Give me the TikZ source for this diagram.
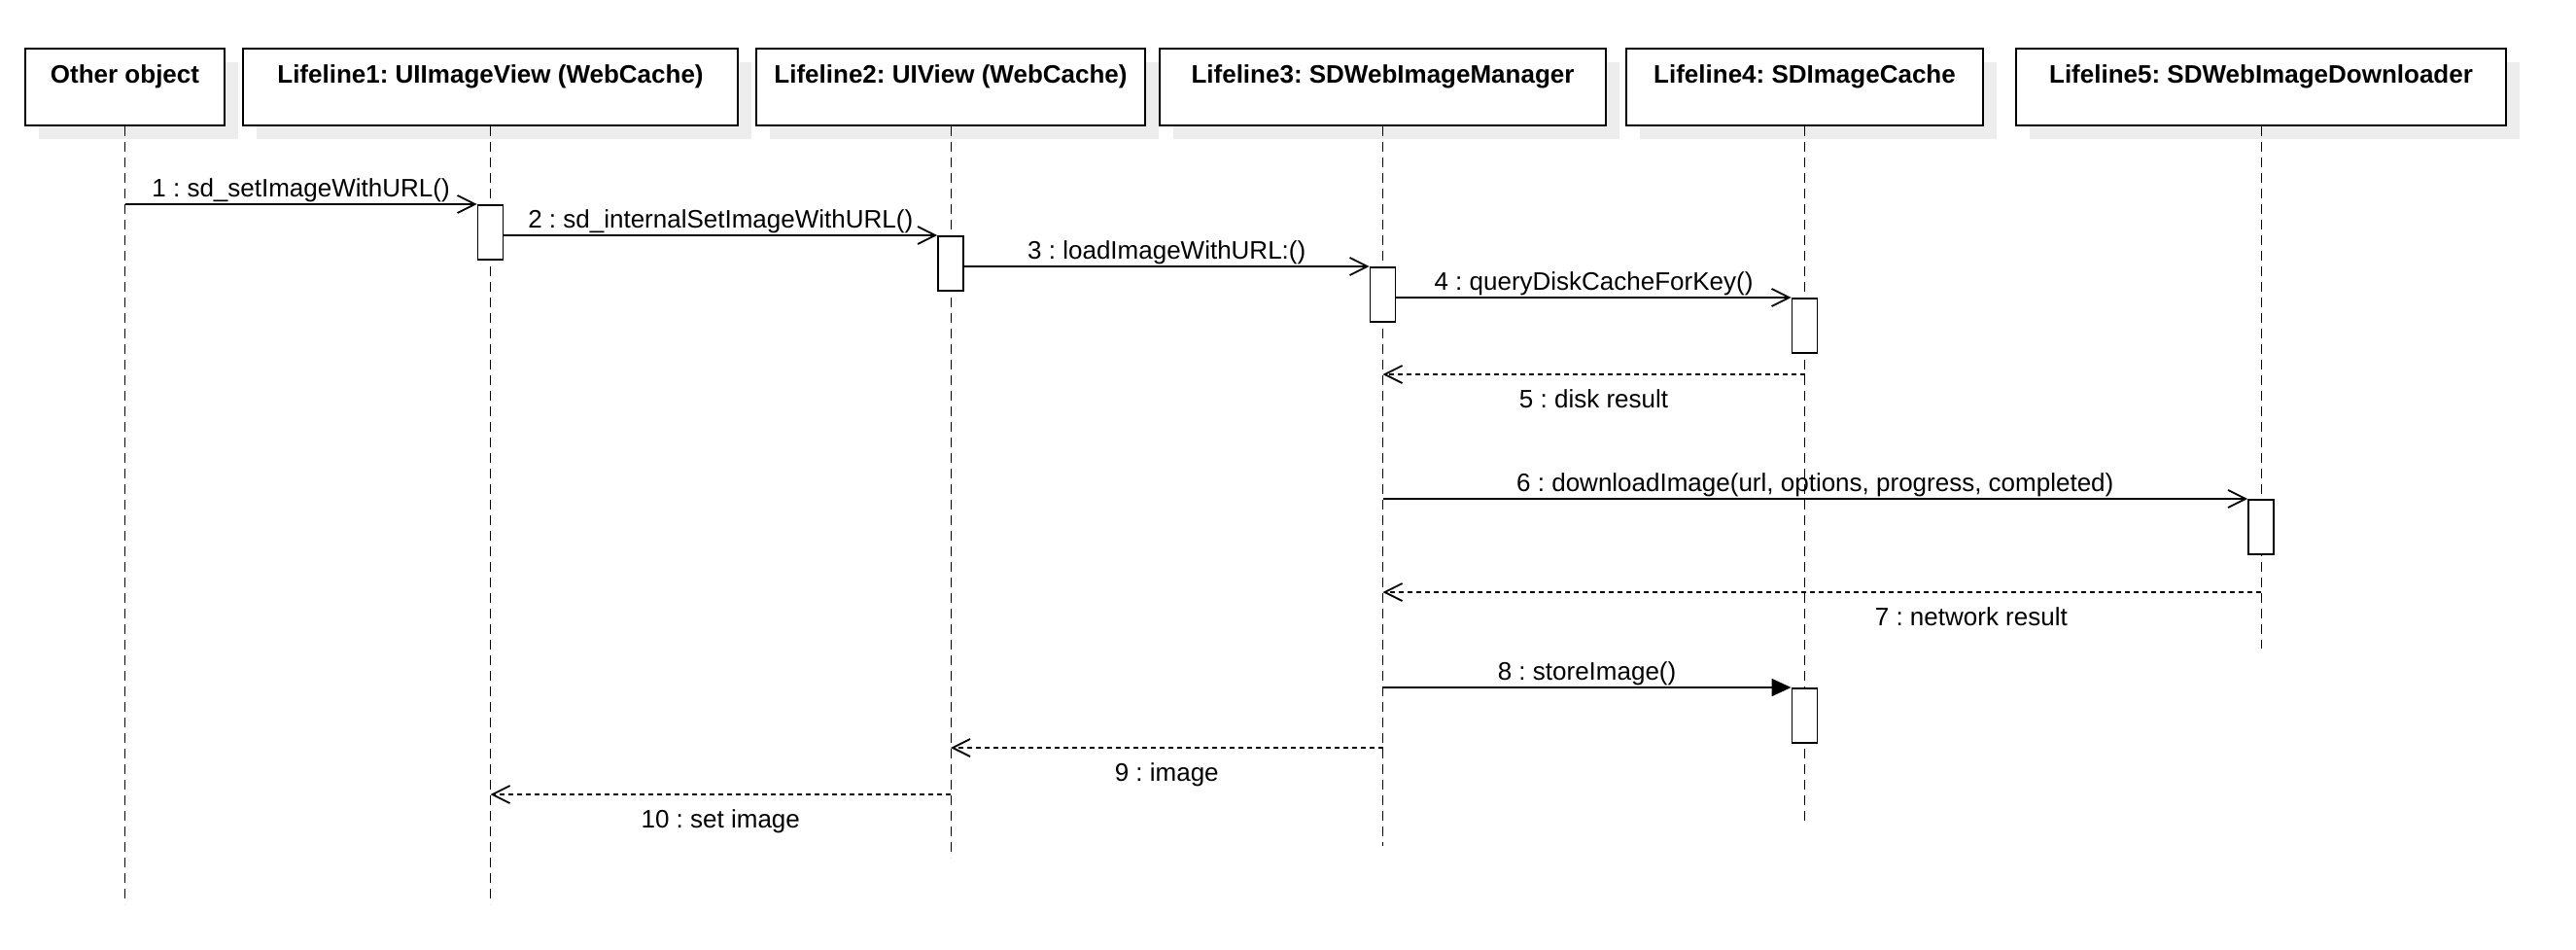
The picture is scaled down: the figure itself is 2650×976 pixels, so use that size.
\documentclass[tikz,border=0pt]{standalone}
\usepackage{fontspec}
\setmainfont{Liberation Sans}
\frenchspacing
\usetikzlibrary{arrows.meta,positioning,shadows}
\tikzset{
  every node/.style={font=\fontsize{13pt}{15pt}\selectfont},
  lifebox/.style={draw,line width=1pt,fill=white,font=\fontsize{13pt}{15pt}\selectfont\bfseries,
    anchor=north,minimum height=39.5pt,inner ysep=8.4pt,text height=9.3pt,text depth=13.4pt,
    drop shadow={shadow xshift=7pt,shadow yshift=-7pt,fill=black!7,opacity=1}},
  lifeline/.style={line width=0.5pt,dash pattern=on 5pt off 3pt},
  actbox/.style={draw,line width=0.9pt,fill=white,anchor=north,inner sep=0pt,
    minimum width=13pt,minimum height=28pt},
  call/.style={line width=0.9pt,-{Straight Barb[length=9pt,width=9pt]}},
  sync/.style={line width=0.9pt,-{Triangle[length=10pt,width=9pt]}},
  reply/.style={line width=0.9pt,dash pattern=on 2.5pt off 2pt,-{Straight Barb[length=9pt,width=9pt]}},
  msglabel/.style={text height=9.5pt,text depth=2.7pt,inner sep=0.8pt}
}
\begin{document}
\begin{tikzpicture}[x=0.5pt,y=-0.5pt]
  \useasboundingbox (0,0) rectangle (2650,976);
  % lifeline heads
  \node[lifebox,minimum width=102.5pt] (other) at (128.5,49) {Other object};
  \node[lifebox,minimum width=254.5pt] (ll1) at (504.5,49) {Lifeline1: UIImageView (WebCache)};
  \node[lifebox,minimum width=200pt] (ll2) at (978,49) {Lifeline2: UIView (WebCache)};
  \node[lifebox,minimum width=229.5pt] (ll3) at (1422.5,49) {Lifeline3: SDWebImageManager};
  \node[lifebox,minimum width=183.5pt] (ll4) at (1856.5,49) {Lifeline4: SDImageCache};
  \node[lifebox,minimum width=252pt] (ll5) at (2326,49) {Lifeline5: SDWebImageDownloader};
  \foreach \n/\e in {other/930,ll1/930,ll2/882,ll3/870,ll4/848,ll5/667}
    \draw[lifeline] (\n.south) -- (\n.south |- 0,\e);
  % activations
  \node[actbox] (a1) at (ll1.south |- 0,210) {};
  \node[actbox] (a2) at (ll2.south |- 0,242) {};
  \node[actbox] (a3) at (ll3.south |- 0,274) {};
  \node[actbox] (a4) at (ll4.south |- 0,306) {};
  \node[actbox] (a5) at (ll5.south |- 0,513) {};
  \node[actbox] (a6) at (ll4.south |- 0,707) {};
  % messages
  \draw[call] (other.south |- a1.north) -- node[above=0pt,msglabel] {1 : sd\_setImageWithURL()} (a1.north west);
  \draw[call] (a1.east |- a2.north) -- node[above=0pt,msglabel] {2 : sd\_internalSetImageWithURL()} (a2.north west);
  \draw[call] (a2.east |- a3.north) -- node[above=0pt,msglabel] {3 : loadImageWithURL:()} (a3.north west);
  \draw[call] (a3.east |- a4.north) -- node[above=0pt,msglabel] {4 : queryDiskCacheForKey()} (a4.north west);
  \draw[reply] (ll4.south |- 0,385) -- node[below=6.3pt,msglabel] {5 : disk result} (ll3.south |- 0,385);
  \draw[call] (ll3.south |- a5.north) -- node[above=0pt,msglabel] {6 : downloadImage(url, options, progress, completed)} (a5.north west);
  \draw[reply] (ll5.south |- 0,609) -- node[pos=0.33,below=6.3pt,msglabel] {7 : network result} (ll3.south |- 0,609);
  \draw[sync] (ll3.south |- a6.north) -- node[above=0pt,msglabel] {8 : storeImage()} (a6.north west);
  \draw[reply] (ll3.south |- 0,769) -- node[below=6.3pt,msglabel] {9 : image} (ll2.south |- 0,769);
  \draw[reply] (ll2.south |- 0,817) -- node[below=6.3pt,msglabel] {10 : set image} (ll1.south |- 0,817);
\end{tikzpicture}
\end{document}
